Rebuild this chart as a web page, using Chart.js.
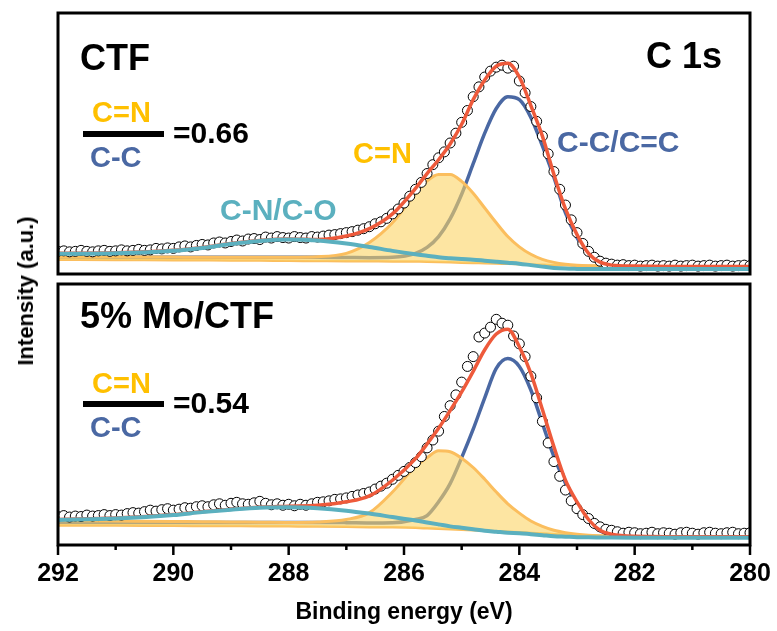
<!DOCTYPE html>
<html>
<head>
<meta charset="utf-8">
<script src="https://cdn.jsdelivr.net/npm/chart.js@4.4.1/dist/chart.umd.min.js"></script>
<style>
html,body{margin:0;padding:0;background:#fff;}
#wrap{position:relative;width:777px;height:631px;overflow:hidden;}
#cTop{position:absolute;left:0;top:0;}
#cBot{position:absolute;left:0;top:278px;}
#ylab{position:absolute;left:26px;top:291px;transform:translate(-50%,-50%) rotate(-90deg);white-space:nowrap;font:bold 22px "Liberation Sans",Arial,sans-serif;line-height:1;color:#000;}
</style>
</head>
<body>
<div id="wrap">
<canvas id="cTop" width="777" height="280"></canvas>
<canvas id="cBot" width="777" height="353"></canvas>
<div id="ylab">Intensity (a.u.)</div>
</div>
<script>
// ---------- DATA ----------
// measured points every 0.1 eV from 292.0 down to 280.0
const dataEnergy = Array.from({length:121}, (_, i) => Math.round((292 - i*0.1)*10)/10);
// energies of the sampled fit curves
const fitEnergy = [292, 291, 290, 289.5, 289, 288.5, 288, 287.5, 287, 286.6, 286.2, 285.8, 285.6, 285.4, 285.2, 285.0,
  284.8, 284.6, 284.4, 284.2, 284.0, 283.8, 283.6, 283.4, 283.2, 283.0, 282.8, 282.6, 282.4, 282.0, 281, 280];
const xTickLabels = [292, 290, 288, 286, 284, 282, 280];

// CTF panel
const ctfData = [23, 23.5, 22.5, 23, 24, 23, 22.5, 23.5, 24, 23,
  23.5, 24.5, 23.5, 24, 25, 24, 24.5, 26, 25.5, 26.5,
  26, 27.5, 28.5, 27.5, 29, 30, 29.5, 31.5, 32.5, 31.5,
  33, 34.5, 33.5, 35.5, 36, 35, 37.5, 36.5, 38, 37,
  36.5, 38, 37, 36.5, 38, 37.5, 38.5, 39.5, 40, 41,
  42, 43, 44.5, 46, 48, 51, 53, 56.5, 61, 66,
  72, 79, 86, 93, 102, 111, 118, 124, 133, 143,
  154, 166, 180, 190, 200, 206, 210, 212, 209, 211,
  196, 184, 170, 155, 140, 122, 104, 86, 70, 55,
  42, 31, 23, 17, 13, 11, 10, 9, 9.5, 8.5,
  9, 8, 8.5, 9, 8, 8.5, 8, 9, 8, 8.5,
  9, 8, 8.5, 9, 8, 8.5, 9, 8, 8.5, 9,
  8.5];
const ctfFit = [21, 21.5, 24, 27, 31, 34, 35.5, 35, 38.5, 46, 61, 87, 102, 116, 132, 152,
  177, 197, 211, 214, 200, 171, 140, 101, 66, 40, 21, 12, 9, 8, 7.5, 7.5];
const ctfCC = [17, 17, 17, 17, 17, 17, 17, 17, 16.8, 16.6, 17, 21, 27, 38, 56, 81,
  112, 143, 168, 180, 177, 159, 130, 98, 62, 37, 20, 12, 9, 7.7, 7, 7];
const ctfCN = [17.5, 17.5, 17.2, 17, 17, 17, 17, 17.5, 21, 32, 52, 82, 94.5, 101, 101, 94,
  82, 67, 52, 38, 27.6, 20, 14.8, 11.8, 10, 9, 8.5, 8.3, 8.2, 8, 8, 8];
const ctfCNBase = [14.5, 14.3, 14, 13.9, 13.8, 13.6, 13.4, 13.2, 13, 12.9, 12.8, 12.6, 12.5, 12.3, 12, 11.5,
  11.2, 11, 10.7, 10.3, 10, 9.7, 9.3, 9, 8.8, 8.5, 8.4, 8.3, 8.2, 8, 8, 8];
const ctfCO = [20.5, 21, 23.5, 26.5, 30.5, 33.5, 35, 34, 31, 27.5, 23.5, 20, 18.5, 17, 16, 15.2,
  14.5, 13.5, 12.5, 11.5, 10.5, 9, 7.5, 6.2, 5.5, 5.2, 5, 5, 5, 5, 5, 5];

// 5% Mo/CTF panel
const moData = [29, 30, 28.5, 29.5, 29, 30.5, 29.5, 30, 31, 30,
  31, 30.5, 32, 33, 32.5, 34, 35.5, 34.5, 36, 37,
  35.5, 36.5, 38, 37.5, 39, 40, 39, 41, 42, 40.5,
  42.5, 43.5, 42, 41.5, 43, 44.5, 42.5, 41, 42, 40.5,
  41.5, 40, 41.5, 40.5, 42, 43.5, 44, 45, 46.5, 47,
  48, 49.5, 51, 52.5, 54, 57, 60, 63, 67, 71,
  75, 79, 84, 90, 99, 107, 116, 131, 142, 153,
  166, 182, 192, 212, 216, 222, 230, 226, 224, 213,
  205, 192, 172, 150, 126, 104, 85, 70, 56, 45,
  37, 31, 27, 22, 18.5, 16, 15, 13.5, 12, 13,
  12.5, 11.5, 12, 13, 11.5, 12.5, 12, 11, 12.5, 13,
  12, 11, 12.5, 13, 12, 11.5, 12.5, 13, 11.5, 12,
  12.5];
const moFit = [26, 27.5, 31, 34, 36.5, 38.5, 39.5, 40.5, 44, 50, 66, 88, 103, 119, 137, 156,
  177, 199, 215, 220, 202, 175, 138, 100, 66, 44, 26, 15, 11, 9, 8.5, 8.5];
const moCC = [23, 23, 23, 23, 23, 23, 23, 23, 22.8, 22.5, 22.7, 26, 30, 44, 62.5, 89,
  118, 150, 180, 190, 182, 158, 124, 90, 63, 40, 24, 14.5, 10.5, 8.6, 8.3, 8];
const moCN = [25, 24.5, 24, 23.8, 23.5, 23.3, 23, 23.5, 26, 33, 54, 80, 89, 96, 95, 88.5,
  79, 67, 54, 42, 32.5, 24.5, 19, 15, 12.6, 11, 10, 9.5, 9.2, 8.7, 8.2, 8.2];
const moCNBase = [20, 19.8, 19.5, 19.4, 19.3, 19.2, 19, 18.8, 18.5, 18.2, 18, 17.5, 17, 16.5, 16, 15.5,
  15, 14.5, 14, 13.5, 13, 12.3, 11.7, 11, 10.5, 10, 9.6, 9.3, 9, 8.5, 8, 8];
const moCO = [25.5, 27, 30.5, 33.5, 36, 38, 38.5, 37.5, 35, 32, 28.5, 25, 23, 21, 19, 17.5,
  16, 14.5, 13.5, 12.5, 12, 11, 10, 9, 8.5, 8, 7.8, 7.7, 7.6, 7.5, 7.5, 7.5];

// ---------- STYLE ----------
const FONT = '"Liberation Sans", Arial, sans-serif';
const C_RED = '#EE5A3B', C_BLUE = '#4A68A3', C_YEL = '#FBBE5E', C_YFILL = 'rgba(252,212,100,0.6)',
      C_TEAL = '#5BB0BF', C_YTXT = '#FFC000';

function pts(xs, ys){ return xs.map((x, i) => ({x: x, y: ys[i]})); }

function datasets(d, fit, cc, cn, cnBase, co){
  const lineBase = {showLine:true, pointRadius:0, fill:false, cubicInterpolationMode:'monotone', clip:0};
  return [
    {label:'data', data:pts(dataEnergy, d), showLine:false, pointRadius:5, pointHoverRadius:5,
     pointBackgroundColor:'#fff', pointBorderColor:'#000', pointBorderWidth:1, order:2, clip:0},
    Object.assign({label:'fit', data:pts(fitEnergy, fit), borderColor:C_RED, borderWidth:3.5, order:1}, lineBase),
    Object.assign({label:'C-N/C-O', data:pts(fitEnergy, co), borderColor:C_TEAL, borderWidth:4, order:0}, lineBase),
    Object.assign({label:'C=N', data:pts(fitEnergy, cn), borderColor:C_YEL, borderWidth:3, order:3}, lineBase,
      {fill:{target:4, above:C_YFILL, below:C_YFILL}}),
    Object.assign({label:'C=N base', data:pts(fitEnergy, cnBase), borderColor:C_YEL, borderWidth:2.5, order:4}, lineBase),
    Object.assign({label:'C-C/C=C', data:pts(fitEnergy, cc), borderColor:C_BLUE, borderWidth:3.5, order:5}, lineBase)
  ];
}

function textPlugin(items, offY, drawTicks){
  return {
    id:'deco',
    afterDraw(chart){
      const ctx = chart.ctx, a = chart.chartArea;
      ctx.save();
      // frame
      ctx.strokeStyle = '#000'; ctx.lineWidth = 3;
      ctx.strokeRect(a.left, a.top, a.right - a.left, a.bottom - a.top);
      // ticks
      if (drawTicks){
        const sx = chart.scales.x;
        ctx.lineWidth = 2.5;
        for (let v = 280; v <= 292; v++){
          const px = sx.getPixelForValue(v);
          const len = xTickLabels.includes(v) ? 10 : 5;
          ctx.beginPath(); ctx.moveTo(px, a.bottom); ctx.lineTo(px, a.bottom + len); ctx.stroke();
        }
      }
      // texts
      ctx.textBaseline = 'alphabetic';
      items.forEach(t => {
        if (t.bar){ ctx.fillStyle = '#000'; ctx.fillRect(t.x, t.y - offY, t.w, t.h); return; }
        ctx.font = 'bold ' + t.size + 'px ' + FONT;
        ctx.fillStyle = t.color;
        ctx.textAlign = t.align || 'left';
        ctx.fillText(t.text, t.x, t.y - offY);
      });
      ctx.restore();
    }
  };
}

const topTexts = [
  {text:'CTF', x:80, y:70, size:36, color:'#000'},
  {text:'C 1s', x:722, y:68, size:36, color:'#000', align:'right'},
  {text:'C=N', x:92, y:122, size:29, color:C_YTXT},
  {bar:true, x:83, y:131, w:81, h:6},
  {text:'C-C', x:90, y:167, size:29, color:C_BLUE},
  {text:'=0.66', x:173, y:143, size:30, color:'#000'},
  {text:'C=N', x:353, y:163, size:29, color:C_YTXT},
  {text:'C-C/C=C', x:557, y:152, size:30, color:C_BLUE},
  {text:'C-N/C-O', x:220, y:220, size:30, color:C_TEAL}
];
const botTexts = [
  {text:'5% Mo/CTF', x:80, y:328, size:36, color:'#000'},
  {text:'C=N', x:92, y:393, size:29, color:C_YTXT},
  {bar:true, x:83, y:401, w:81, h:6},
  {text:'C-C', x:90, y:437, size:29, color:C_BLUE},
  {text:'=0.54', x:173, y:413, size:30, color:'#000'}
];

const common = {
  responsive:false, animation:false, events:[],
  plugins:{legend:{display:false}, tooltip:{enabled:false}}
};

new Chart(document.getElementById('cTop'), {
  type:'scatter',
  data:{datasets:datasets(ctfData, ctfFit, ctfCC, ctfCN, ctfCNBase, ctfCO)},
  options:Object.assign({}, common, {
    layout:{padding:{left:58, right:27, top:13, bottom:2}},
    scales:{
      x:{type:'linear', reverse:true, min:280, max:292, display:false},
      y:{min:0, max:265, display:false}
    }
  }),
  plugins:[textPlugin(topTexts, 0, false)]
});

new Chart(document.getElementById('cBot'), {
  type:'scatter',
  data:{datasets:datasets(moData, moFit, moCC, moCN, moCNBase, moCO)},
  options:Object.assign({}, common, {
    layout:{padding:{left:58, right:27, top:1, bottom:0}},
    scales:{
      x:{type:'linear', reverse:true, min:280, max:292,
         afterFit(s){ s.height = 86; },
         afterBuildTicks(s){ s.ticks = []; for (let v = 280; v <= 292; v++) s.ticks.push({value:v}); },
         grid:{display:false, drawTicks:false},
         border:{display:false},
         ticks:{autoSkip:false, maxRotation:0, padding:14, color:'#000',
                font:{family:FONT, size:25, weight:'bold'},
                callback:(v) => xTickLabels.includes(v) ? String(v) : ''},
         title:{display:true, text:'Binding energy (eV)', color:'#000',
                font:{family:FONT, size:23, weight:'bold'}, padding:{top:0, bottom:5}}
      },
      y:{min:0, max:266, display:false}
    }
  }),
  plugins:[textPlugin(botTexts, 278, true)]
});
</script>
</body>
</html>
